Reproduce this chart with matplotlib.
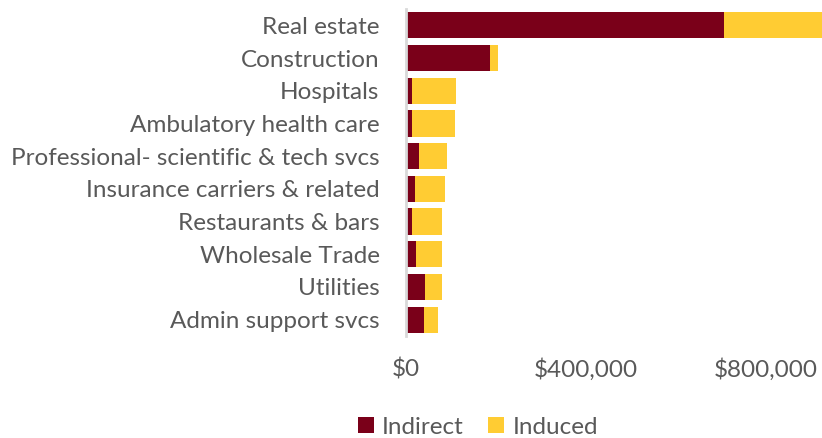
import matplotlib.pyplot as plt
from matplotlib.ticker import FuncFormatter

# categories, top to bottom
industries = [
    "Real estate",
    "Construction",
    "Hospitals",
    "Ambulatory health care",
    "Professional- scientific & tech svcs",
    "Insurance carriers & related",
    "Restaurants & bars",
    "Wholesale Trade",
    "Utilities",
    "Admin support svcs",
]
indirect = [707000, 186000, 13000, 13000, 29000, 20000, 13000, 22000, 42000, 40000]
induced = [222000, 18000, 97000, 96000, 62000, 67000, 68000, 58000, 38000, 31000]

maroon = "#7A0019"
gold = "#FFCC33"
text_gray = "#595959"

plt.rcParams["font.family"] = ["Lato", "DejaVu Sans"]

fig = plt.figure(figsize=(8.22, 4.38), dpi=100)
ax = fig.add_axes([406 / 822, 1 - 336 / 438, 1 - 406 / 822, 327 / 438])

ypos = list(range(len(industries)))
ax.barh(ypos, indirect, height=0.8, color=maroon, label="Indirect")
ax.barh(ypos, induced, left=indirect, height=0.8, color=gold, label="Induced")

ax.set_ylim(len(industries) - 0.5, -0.5)
ax.set_xlim(0, 924000)
ax.set_yticks(ypos)
ax.set_yticklabels(industries, fontsize=17.5, color=text_gray)
ax.set_xticks([0, 400000, 800000])
ax.xaxis.set_major_formatter(FuncFormatter(lambda v, p: "${:,.0f}".format(v)))
ax.tick_params(axis="x", labelsize=17.5, labelcolor=text_gray, length=0, pad=16)
ax.tick_params(axis="y", length=0, pad=19)

for s in ["top", "right", "bottom"]:
    ax.spines[s].set_visible(False)
ax.spines["left"].set_color("#D9D9D9")
ax.spines["left"].set_linewidth(2)

leg = fig.legend(loc="center", bbox_to_anchor=(478 / 822, 1 - 427 / 438), ncol=2,
                 frameon=False, fontsize=17.5, handlelength=0.65, handleheight=0.65,
                 columnspacing=1.0, handletextpad=0.35)
for t in leg.get_texts():
    t.set_color(text_gray)

fig.savefig("out.png", dpi=100)
